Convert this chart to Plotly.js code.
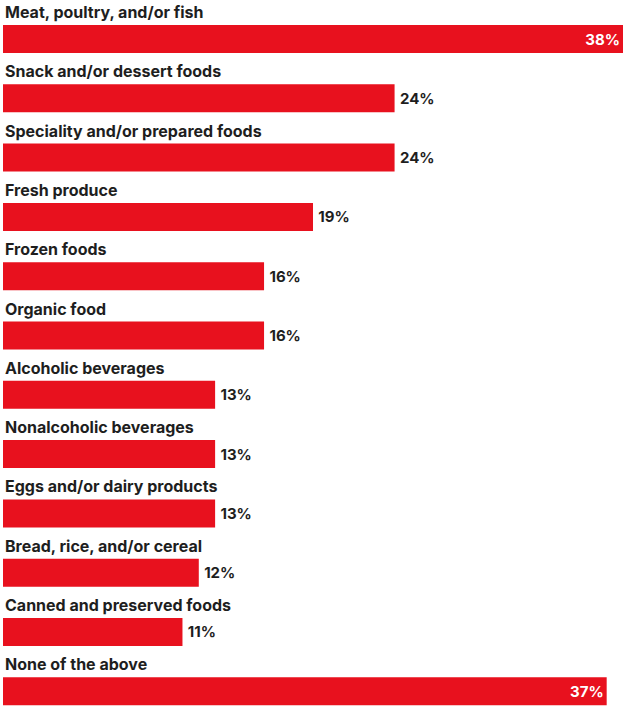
<!DOCTYPE html>
<html>
<head>
<meta charset="utf-8">
<script src="https://cdn.plot.ly/plotly-3.0.1.min.js"></script>
<style>html,body{margin:0;padding:0;background:#fff;}#chart{width:623px;height:707px;}</style>
</head>
<body>
<div id="chart"></div>
<script>
const categories = [
  "Meat, poultry, and/or fish",
  "Snack and/or dessert foods",
  "Speciality and/or prepared foods",
  "Fresh produce",
  "Frozen foods",
  "Organic food",
  "Alcoholic beverages",
  "Nonalcoholic beverages",
  "Eggs and/or dairy products",
  "Bread, rice, and/or cereal",
  "Canned and preserved foods",
  "None of the above"
];
const values = [38, 24, 24, 19, 16, 16, 13, 13, 13, 12, 11, 37];

const RED = "#E8111E";
const DARK = "#1e1e1e";
const FONT = "Inter, 'Open Sans', sans-serif";
const maxVal = Math.max(...values);
const textPos = values.map(v => v >= 30 ? "inside" : "outside");
const valueLabels = values.map((v, i) => (textPos[i] === "outside" ? "\u2009" : "") + v + "%");

const trace = {
  type: "bar",
  orientation: "h",
  y: categories,
  x: values,
  text: valueLabels,
  textposition: textPos,
  insidetextanchor: "end",
  textangle: 0,
  insidetextfont: {family: FONT, size: 15, color: "#ffffff", weight: 700},
  outsidetextfont: {family: FONT, size: 15, color: DARK, weight: 700},
  marker: {color: RED},
  cliponaxis: false,
  hoverinfo: "none"
};

const annotations = categories.map(c => ({
  xref: "paper", yref: "y",
  x: 0, y: c,
  xanchor: "left", yanchor: "bottom",
  yshift: 15,
  showarrow: false,
  text: c,
  font: {family: FONT, size: 16, color: DARK, weight: 700}
}));

const layout = {
  width: 623, height: 707,
  margin: {l: 3, r: 0, t: 0, b: 0, pad: 0},
  paper_bgcolor: "#fff", plot_bgcolor: "#fff",
  showlegend: false,
  bargap: 0.528,
  xaxis: {range: [0, maxVal], visible: false, fixedrange: true},
  yaxis: {
    type: "category",
    categoryorder: "array", categoryarray: categories,
    range: [11.265, -0.658],
    visible: false, fixedrange: true
  },
  annotations: annotations
};

Plotly.newPlot("chart", [trace], layout, {staticPlot: true, displayModeBar: false});
</script>
</body>
</html>
